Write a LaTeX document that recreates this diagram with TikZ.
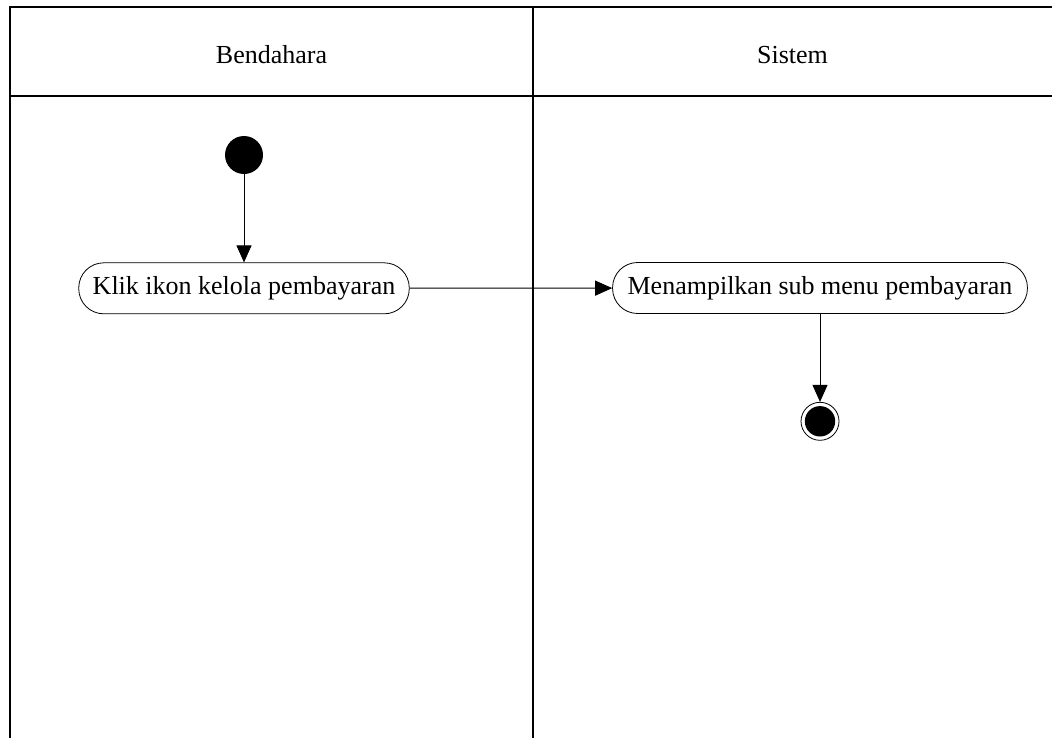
\documentclass[tikz,border=0pt]{standalone}
\usepackage{fontspec}
\setmainfont{Liberation Serif}
\usetikzlibrary{arrows.meta,positioning}

\begin{document}
\begin{tikzpicture}[x=0.5pt, y=-0.5pt, font=\fontsize{13}{15}\selectfont, node distance=44pt,
 act/.style={draw,rounded corners=12.5pt,minimum height=25.5pt,inner xsep=7pt},
 ini/.style={circle,fill=black,minimum size=19pt,inner sep=0pt},
 fin/.style={circle,draw,minimum size=19pt,inner sep=0pt},
 lane/.style={line width=0.8pt},
 a/.style={-{Triangle[length=8.5pt,width=7.5pt]},line width=0.5pt}]
\useasboundingbox (0,0) rectangle (1052,738);
\draw[lane] (1052,7) -- (10,7) -- (10,738);
\draw[lane] (10,96) -- (1052,96);
\draw[lane] (533,7) -- (533,738);
\node (l1) at (271.5,55) {Bendahara};
\node (l2) at (792.5,55) {Sistem};
\node[ini] (s) at (244,155) {};
\node[act,below=of s] (k) {Klik ikon kelola pembayaran};
\node[act,inner xsep=7.5pt] (m) at (820,288) {Menampilkan sub menu pembayaran};
\node[fin,below=of m] (e) {};
\fill (e) circle (7.6pt);
\draw[a] (s)--(k);\draw[a] (k)--(m);\draw[a] (m)--(e);
\end{tikzpicture}
\end{document}
